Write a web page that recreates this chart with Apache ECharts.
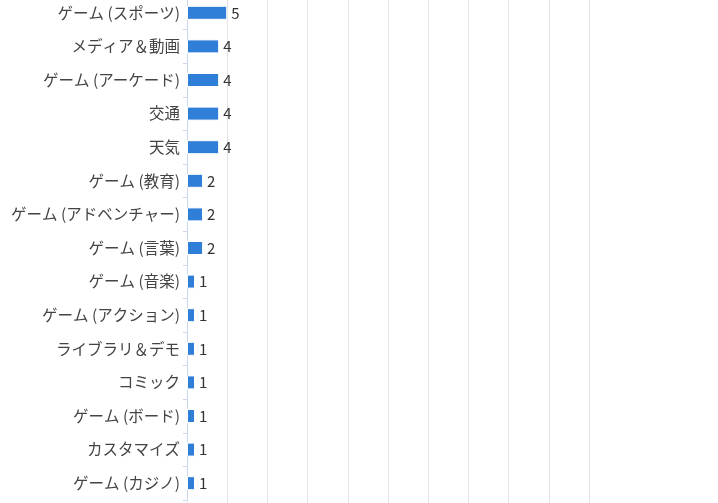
<!DOCTYPE html>
<html>
<head>
<meta charset="utf-8">
<script src="https://cdn.jsdelivr.net/npm/echarts@6/dist/echarts.min.js"></script>
<style>
  html, body { margin: 0; padding: 0; background: #fff; }
  #main { width: 718px; height: 503px; }
</style>
</head>
<body>
<div id="main"></div>
<script>
  // カテゴリと件数
  var categories = [
    'ゲーム (スポーツ)', 'メディア＆動画', 'ゲーム (アーケード)', '交通', '天気',
    'ゲーム (教育)', 'ゲーム (アドベンチャー)', 'ゲーム (言葉)', 'ゲーム (音楽)',
    'ゲーム (アクション)', 'ライブラリ＆デモ', 'コミック', 'ゲーム (ボード)',
    'カスタマイズ', 'ゲーム (カジノ)'
  ];
  var counts = [5, 4, 4, 4, 4, 2, 2, 2, 1, 1, 1, 1, 1, 1, 1];
  var axisMin = 0, axisMax = 50, axisStep = 5;

  var chart = echarts.init(document.getElementById('main'));
  var option = {
    animation: false,
    textStyle: { fontFamily: '"Noto Sans CJK JP", "Noto Sans", sans-serif' },
    grid: {
      left: 187, right: 129, top: -4, bottom: 3,
      containLabel: false,
      outerBoundsMode: 'none'
    },
    xAxis: {
      type: 'value',
      min: axisMin,
      max: axisMax,
      interval: axisStep,
      axisLine: { show: false },
      axisTick: { show: true, length: 3, lineStyle: { color: '#e6e6e6' } },
      axisLabel: { show: false },
      splitLine: { show: true, lineStyle: { color: '#e2e2e2', width: 1 } }
    },
    yAxis: {
      type: 'category',
      inverse: true,
      data: categories,
      axisLine: { show: true, lineStyle: { color: '#ccd6eb' } },
      axisTick: { show: true, length: 4, lineStyle: { color: '#ccd6eb' } },
      axisLabel: { color: '#444', fontSize: 15.5, margin: 7 }
    },
    series: [{
      type: 'bar',
      data: counts,
      barWidth: 14,
      itemStyle: { color: '#2f7ed8', borderColor: '#ffffff', borderWidth: 1 },
      label: { show: true, position: 'right', distance: 4, color: '#333', fontSize: 15 }
    }]
  };
  chart.setOption(option);
</script>
</body>
</html>
